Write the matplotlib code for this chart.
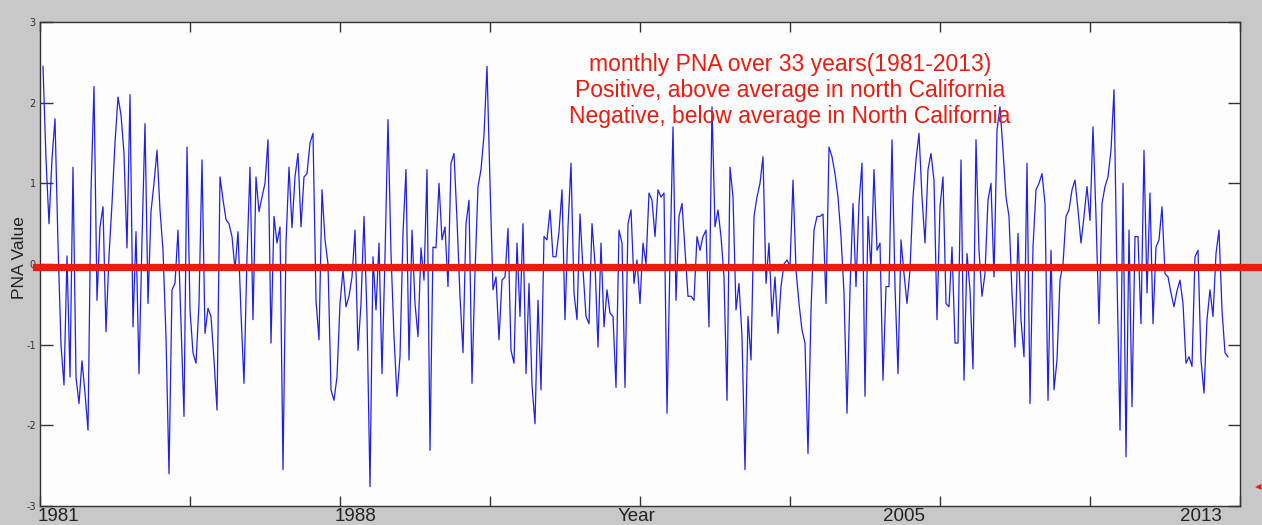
import numpy as np
import matplotlib
matplotlib.use("Agg")
import matplotlib.pyplot as plt

plt.rcParams["axes.unicode_minus"] = False

# Monthly PNA index, Jan 1981 - Dec 2013 (one row per year)
pna_1981_1990 = [
    2.45, 1.3, 0.5, 1.3, 1.8, 0.25, -1.0, -1.5, 0.1, -1.4, 1.2, -1.4,
    -1.73, -1.2, -1.6, -2.06, 0.9, 2.2, -0.45, 0.46, 0.71, -0.84, 0.1, 0.75,
    1.5, 2.07, 1.85, 1.37, 0.2, 2.1, -0.78, 0.4, -1.36, 0.3, 1.74, -0.49,
    0.65, 1.0, 1.41, 0.67, 0.17, -0.9, -2.6, -0.32, -0.24, 0.42, -0.74, -1.89,
    1.45, -0.57, -1.1, -1.23, -0.49, 1.29, -0.86, -0.55, -0.65, -1.19, -1.81, 1.08,
    0.8, 0.55, 0.5, 0.34, -0.07, 0.4, -0.61, -1.48, 0.09, 1.2, -0.69, 1.08,
    0.65, 0.83, 1.0, 1.54, -0.98, 0.59, 0.26, 0.46, -2.55, 0.26, 1.2, 0.45,
    1.08, 1.37, 0.46, 1.08, 1.12, 1.5, 1.62, -0.45, -0.94, 0.92, 0.3, 0.0,
    -1.56, -1.69, -1.4, -0.49, -0.07, -0.53, -0.4, -0.16, 0.42, -1.07, -0.49, 0.59,
    -0.65, -2.76, 0.09, -0.57, 0.26, -1.36, 0.09, 1.79, 0.13, -0.9, -1.64, -1.15,
]
pna_1991_2000 = [
    0.38, 1.17, -1.19, 0.42, -0.49, -0.9, 0.2, -0.2, 1.17, -2.31, 0.21, 0.2,
    1.0, 0.3, 0.46, -0.28, 1.25, 1.37, 0.55, -0.4, -1.1, 0.5, 0.79, -1.48,
    -0.1, 0.96, 1.17, 1.6, 2.45, 1.0, -0.32, -0.16, -0.94, -0.2, -0.16, 0.44,
    -1.07, -1.23, 0.26, -0.65, 0.5, -1.36, -0.24, -1.5, -1.98, -0.45, -1.56, 0.34,
    0.3, 0.67, 0.09, 0.09, 0.4, 0.92, -0.69, 0.46, 1.25, -0.36, -0.69, 0.62,
    -0.07, -0.65, -0.74, 0.5, 0.0, -1.03, 0.26, -0.78, -0.32, -0.61, -0.65, -1.53,
    0.42, 0.26, -1.53, 0.5, 0.67, -0.24, 0.05, -0.49, 0.26, 0.0, 0.88, 0.79,
    0.34, 0.92, 0.83, 0.88, -1.85, 0.05, 1.7, -0.45, 0.59, 0.75, 0.17, -0.4,
    -0.4, -0.45, 0.34, 0.17, 0.34, 0.42, -0.78, 1.95, 0.46, 0.67, 0.34, -0.16,
    -1.69, 1.2, 0.83, -0.57, -0.24, -0.9, -2.55, -0.65, -1.19, 0.59, 0.83, 1.0,
]
pna_2001_2013 = [
    1.33, -0.24, 0.26, -0.65, -0.16, -0.86, -0.28, 0.0, 0.05, -0.03, 1.04, -0.07,
    -0.49, -0.82, -0.98, -2.35, -0.57, 0.42, 0.59, 0.59, 0.62, -0.49, 1.45, 1.33,
    1.12, 0.83, 0.34, -0.36, -1.85, -0.32, 0.75, -0.28, 0.75, 1.25, -1.64, 0.59,
    -0.07, 1.17, 0.17, 0.26, -1.44, -0.28, -0.28, 1.54, -0.28, -1.36, 0.3, -0.12,
    -0.49, -0.07, 0.83, 1.29, 1.62, 0.83, 0.26, 1.17, 1.37, 1.04, -0.69, 0.71,
    1.08, -0.49, -0.53, 0.21, -0.98, -0.98, 1.29, -1.44, 0.13, -0.32, -1.3, 1.54,
    0.17, -0.4, -0.12, 0.79, 1.0, -0.16, 1.66, 1.95, 1.41, 0.83, 0.59, -0.36,
    -1.03, 0.38, -0.69, -1.15, 1.25, -1.73, 0.21, 0.92, 1.0, 1.12, 0.75, -1.69,
    0.17, -1.56, -1.19, -0.2, 0.0, 0.59, 0.67, 0.92, 1.04, 0.67, 0.26, 0.59,
    0.96, 0.54, 1.7, 0.59, -0.74, 0.75, 0.96, 1.08, 1.41, 2.16, -0.16, -2.06,
    1.0, -2.39, 0.42, -1.77, 0.34, 0.34, -0.74, 1.41, -0.36, 0.88, -0.74, 0.21,
    0.3, 0.71, -0.12, -0.16, -0.36, -0.53, -0.33, -0.2, -0.49, -1.23, -1.15, -1.27,
    0.09, 0.17, -1.19, -1.6, -0.69, -0.32, -0.65, 0.13, 0.42, -0.57, -1.1, -1.15,
]
pna = np.array(pna_1981_1990 + pna_1991_2000 + pna_2001_2013)
months = np.arange(1, len(pna) + 1)

mean_level = -0.04

year_labels = ["1981", "1988", "Year", "2005", "2013"]
year_label_pos = [6, 105, 199, 288, 387]

notes = [
    "monthly PNA over 33 years(1981-2013)",
    "Positive, above average in north California",
    "Negative, below average in North California",
]

fig = plt.figure(figsize=(12.62, 5.25), dpi=100, facecolor="#c8c8c8")
ax = fig.add_axes([40 / 1262, 19 / 525, 1200 / 1262, 484 / 525])
ax.set_facecolor("#fdfdfd")

ax.plot(months, pna, color="#2020e8", linewidth=0.9)
ax.axhline(mean_level, xmin=-0.003, xmax=1.02, color="#ee1a0e",
           linewidth=5.2, clip_on=False, zorder=5)

ax.set_xlim(0, 400)
ax.set_ylim(-3, 3)
ax.set_xticks(np.arange(0, 401, 50))
ax.set_xticklabels([])
ax.set_yticks(np.arange(-3, 4, 1))
ax.tick_params(axis="y", direction="in", length=9, width=1, left=True,
               right=True, labelsize=7, labelcolor="#333333", pad=3,
               color="#333333")
ax.tick_params(axis="x", direction="in", length=7, width=1, top=True,
               bottom=True, color="#333333")
for sp in ax.spines.values():
    sp.set_color("#333333")
    sp.set_linewidth(1.0)

for lab, pos in zip(year_labels, year_label_pos):
    ax.text(pos, -3.03, lab, ha="center", va="top", fontsize=13.5,
            family="Liberation Sans", color="#222222")

fig.text(20 / 1262, 1 - 258 / 525, "PNA Value", rotation=90, ha="center",
         va="center", fontsize=12.5, family="Liberation Sans",
         color="#222222")

for k, line in enumerate(notes):
    fig.text(790 / 1262, 1 - (65 + 25.5 * k) / 525, line, ha="center",
             va="center", fontsize=16.5, family="Liberation Sans",
             color="#ee1a0e")

# small red pointer at the right margin
fig.text(1258 / 1262, 1 - 487 / 525, "\u25c0", ha="center", va="center",
         fontsize=6, color="#ee1a0e")

fig.savefig("out.png", dpi=100, facecolor=fig.get_facecolor())
